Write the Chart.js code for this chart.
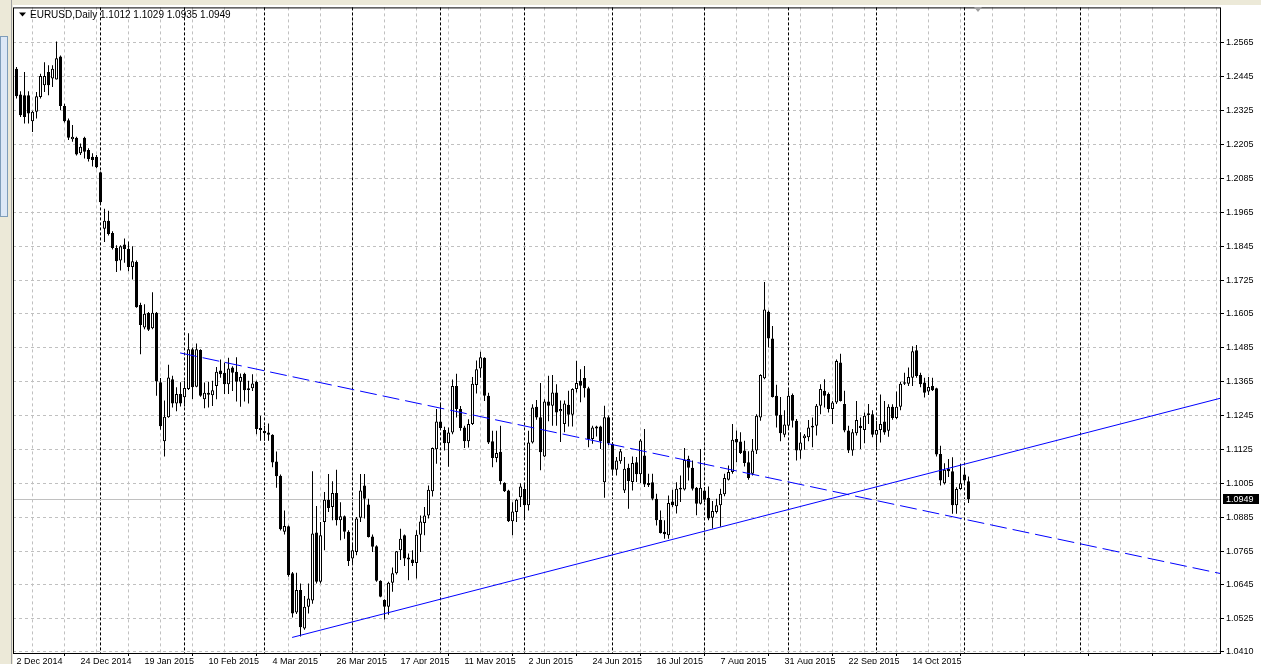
<!DOCTYPE html>
<html>
<head>
<meta charset="utf-8">
<title>EURUSD,Daily</title>
<script src="https://cdn.jsdelivr.net/npm/chart.js@4.4.1/dist/chart.umd.min.js"></script>
<style>
  html, body { margin: 0; padding: 0; overflow: hidden; background: #ece9d8; }
  #wrap { position: absolute; left: 0; top: 0; width: 1261px; height: 664px; }
</style>
</head>
<body>
<div id="wrap"><canvas id="grafica" width="1261" height="664"></canvas></div>
<script>
// EURUSD daily candles, one entry per bar (2 Dec 2014 .. 3 Nov 2015)
const openPrices = [
  1.2474, 1.2382, 1.2380, 1.2380, 1.2288, 1.2321, 1.2374, 1.2415, 1.2462, 1.2439,
  1.2436, 1.2517, 1.2342, 1.2291, 1.2224, 1.2229, 1.2174, 1.2229, 1.2186, 1.2162,
  1.2162, 1.2107, 1.1907, 1.1935, 1.1892, 1.1839, 1.1794, 1.1851, 1.1836, 1.1771,
  1.1789, 1.1637, 1.1557, 1.1608, 1.1554, 1.1609, 1.1363, 1.1154, 1.1239, 1.1374,
  1.1288, 1.1321, 1.1310, 1.1339, 1.1480, 1.1347, 1.1477, 1.1303, 1.1326, 1.1317,
  1.1350, 1.1405, 1.1397, 1.1356, 1.1415, 1.1400, 1.1365, 1.1393, 1.1342, 1.1342,
  1.1365, 1.1201, 1.1190, 1.1185, 1.1177, 1.1082, 1.1032, 1.0833, 1.0853, 1.0686,
  1.0547, 1.0627, 1.0491, 1.0568, 1.0590, 1.0831, 1.0656, 1.0868, 1.0947, 1.0921,
  1.0971, 1.0874, 1.0888, 1.0833, 1.0739, 1.0762, 1.0883, 1.0997, 1.0930, 1.0817,
  1.0782, 1.0660, 1.0592, 1.0568, 1.0653, 1.0686, 1.0768, 1.0821, 1.0742, 1.0735,
  1.0723, 1.0823, 1.0864, 1.0891, 1.0977, 1.1126, 1.1224, 1.1194, 1.1147, 1.1185,
  1.1350, 1.1268, 1.1203, 1.1154, 1.1215, 1.1353, 1.1412, 1.1450, 1.1315, 1.1154,
  1.1095, 1.1117, 1.1007, 1.0980, 1.0871, 1.0903, 1.0956, 1.0985, 1.0927, 1.1150,
  1.1276, 1.1239, 1.1100, 1.1295, 1.1280, 1.1327, 1.1260, 1.1215, 1.1283, 1.1248,
  1.1339, 1.1368, 1.1378, 1.1342, 1.1162, 1.1206, 1.1206, 1.1009, 1.1239, 1.1145,
  1.1053, 1.1083, 1.0980, 1.1060, 1.1010, 1.1080, 1.1037, 1.1104, 1.1006, 1.1009,
  1.0950, 1.0876, 1.0833, 1.0821, 1.0941, 1.0924, 1.0983, 1.0983, 1.1092, 1.1060,
  1.0989, 1.0933, 1.0980, 1.0954, 1.0883, 1.0903, 1.0927, 1.0966, 1.1018, 1.1045,
  1.1162, 1.1153, 1.1121, 1.1080, 1.1039, 1.1121, 1.1238, 1.1377, 1.1613, 1.1518,
  1.1315, 1.1248, 1.1177, 1.1209, 1.1318, 1.1227, 1.1121, 1.1165, 1.1168, 1.1209,
  1.1209, 1.1280, 1.1333, 1.1321, 1.1268, 1.1291, 1.1433, 1.1286, 1.1192, 1.1121,
  1.1182, 1.1209, 1.1194, 1.1253, 1.1250, 1.1177, 1.1194, 1.1224, 1.1191, 1.1276,
  1.1236, 1.1276, 1.1358, 1.1358, 1.1379, 1.1476, 1.1389, 1.1362, 1.1330, 1.1350,
  1.1342, 1.1109, 1.1005, 1.1056, 1.1048, 1.0927, 1.0985, 1.1036, 1.1012
];
const highPrices = [
  1.2480, 1.2394, 1.2462, 1.2394, 1.2325, 1.2391, 1.2456, 1.2497, 1.2486, 1.2486,
  1.2570, 1.2521, 1.2350, 1.2297, 1.2274, 1.2233, 1.2209, 1.2233, 1.2192, 1.2174,
  1.2168, 1.2110, 1.1978, 1.1971, 1.1898, 1.1848, 1.1848, 1.1872, 1.1862, 1.1845,
  1.1794, 1.1645, 1.1639, 1.1612, 1.1682, 1.1612, 1.1378, 1.1298, 1.1425, 1.1386,
  1.1345, 1.1363, 1.1368, 1.1537, 1.1486, 1.1500, 1.1480, 1.1362, 1.1365, 1.1368,
  1.1417, 1.1444, 1.1432, 1.1450, 1.1420, 1.1452, 1.1394, 1.1397, 1.1368, 1.1391,
  1.1368, 1.1244, 1.1209, 1.1217, 1.1179, 1.1118, 1.1036, 1.0909, 1.0856, 1.0691,
  1.0688, 1.0650, 1.0606, 1.0650, 1.1048, 1.0925, 1.0868, 1.0974, 1.1038, 1.1012,
  1.1053, 1.0938, 1.0891, 1.0839, 1.0791, 1.0886, 1.1038, 1.1038, 1.0950, 1.0824,
  1.0786, 1.0662, 1.0594, 1.0656, 1.0707, 1.0765, 1.0844, 1.0824, 1.0756, 1.0768,
  1.0839, 1.0891, 1.0921, 1.0997, 1.1132, 1.1268, 1.1288, 1.1205, 1.1203, 1.1373,
  1.1393, 1.1279, 1.1209, 1.1232, 1.1382, 1.1440, 1.1471, 1.1452, 1.1326, 1.1191,
  1.1191, 1.1209, 1.1009, 1.0982, 1.0938, 1.0950, 1.1005, 1.1003, 1.1191, 1.1285,
  1.1300, 1.1360, 1.1303, 1.1386, 1.1389, 1.1356, 1.1298, 1.1298, 1.1333, 1.1342,
  1.1439, 1.1409, 1.1421, 1.1347, 1.1209, 1.1209, 1.1209, 1.1280, 1.1245, 1.1151,
  1.1098, 1.1127, 1.1098, 1.1074, 1.1100, 1.1098, 1.1162, 1.1197, 1.1039, 1.1039,
  1.0968, 1.0909, 1.0874, 1.0962, 1.0982, 1.1009, 1.1033, 1.1130, 1.1103, 1.1086,
  1.0992, 1.1127, 1.0992, 1.0994, 1.0942, 1.0950, 1.0986, 1.1039, 1.1068, 1.1215,
  1.1192, 1.1186, 1.1156, 1.1119, 1.1162, 1.1250, 1.1391, 1.1718, 1.1617, 1.1562,
  1.1354, 1.1311, 1.1264, 1.1335, 1.1323, 1.1233, 1.1186, 1.1180, 1.1229, 1.1238,
  1.1286, 1.1356, 1.1374, 1.1327, 1.1297, 1.1444, 1.1464, 1.1333, 1.1209, 1.1197,
  1.1297, 1.1238, 1.1256, 1.1286, 1.1264, 1.1226, 1.1320, 1.1297, 1.1285, 1.1285,
  1.1330, 1.1365, 1.1397, 1.1415, 1.1491, 1.1495, 1.1397, 1.1379, 1.1382, 1.1379,
  1.1344, 1.1138, 1.1076, 1.1091, 1.1097, 1.0991, 1.1074, 1.1056, 1.1029
];
const lowPrices = [
  1.2368, 1.2303, 1.2280, 1.2280, 1.2250, 1.2297, 1.2368, 1.2391, 1.2380, 1.2409,
  1.2436, 1.2327, 1.2283, 1.2221, 1.2215, 1.2166, 1.2168, 1.2156, 1.2145, 1.2127,
  1.2121, 1.1998, 1.1860, 1.1883, 1.1833, 1.1754, 1.1759, 1.1786, 1.1756, 1.1727,
  1.1627, 1.1462, 1.1551, 1.1545, 1.1551, 1.1315, 1.1195, 1.1100, 1.1237, 1.1274,
  1.1260, 1.1277, 1.1277, 1.1336, 1.1304, 1.1345, 1.1312, 1.1271, 1.1274, 1.1279,
  1.1303, 1.1379, 1.1321, 1.1321, 1.1332, 1.1295, 1.1276, 1.1295, 1.1288, 1.1332,
  1.1179, 1.1156, 1.1156, 1.1156, 1.1062, 1.0989, 1.0838, 1.0824, 1.0674, 1.0530,
  1.0542, 1.0462, 1.0486, 1.0544, 1.0578, 1.0650, 1.0650, 1.0768, 1.0903, 1.0874,
  1.0856, 1.0803, 1.0809, 1.0712, 1.0721, 1.0750, 1.0868, 1.0880, 1.0813, 1.0762,
  1.0656, 1.0601, 1.0523, 1.0539, 1.0621, 1.0682, 1.0733, 1.0712, 1.0662, 1.0712,
  1.0668, 1.0762, 1.0821, 1.0880, 1.0958, 1.1074, 1.1194, 1.1121, 1.1064, 1.1179,
  1.1238, 1.1191, 1.1130, 1.1132, 1.1212, 1.1323, 1.1379, 1.1297, 1.1144, 1.1062,
  1.1080, 1.1001, 1.0974, 1.0868, 1.0821, 1.0868, 1.0921, 1.0880, 1.0909, 1.1146,
  1.1230, 1.1051, 1.1098, 1.1225, 1.1209, 1.1209, 1.1151, 1.1186, 1.1206, 1.1206,
  1.1327, 1.1292, 1.1309, 1.1133, 1.1145, 1.1171, 1.1127, 1.0954, 1.1140, 1.1033,
  1.1033, 1.1074, 1.0971, 1.0915, 1.0980, 1.1010, 1.1006, 1.0992, 1.0992, 1.0945,
  1.0856, 1.0827, 1.0809, 1.0809, 1.0921, 1.0898, 1.0939, 1.0980, 1.1015, 1.0980,
  1.0892, 1.0930, 1.0939, 1.0874, 1.0845, 1.0898, 1.0851, 1.0959, 1.1015, 1.1039,
  1.1080, 1.1109, 1.1065, 1.1018, 1.1033, 1.1109, 1.1227, 1.1374, 1.1486, 1.1309,
  1.1203, 1.1154, 1.1168, 1.1200, 1.1203, 1.1086, 1.1092, 1.1124, 1.1154, 1.1133,
  1.1174, 1.1250, 1.1274, 1.1256, 1.1215, 1.1286, 1.1295, 1.1186, 1.1112, 1.1103,
  1.1174, 1.1127, 1.1147, 1.1215, 1.1168, 1.1132, 1.1150, 1.1177, 1.1170, 1.1230,
  1.1232, 1.1264, 1.1353, 1.1350, 1.1350, 1.1379, 1.1345, 1.1309, 1.1318, 1.1332,
  1.1100, 1.0997, 1.1001, 1.1027, 1.0897, 1.0897, 1.0982, 1.1003, 1.0935
];
const closePrices = [
  1.2376, 1.2309, 1.2303, 1.2315, 1.2321, 1.2376, 1.2448, 1.2448, 1.2415, 1.2474,
  1.2511, 1.2342, 1.2288, 1.2229, 1.2233, 1.2170, 1.2197, 1.2180, 1.2154, 1.2150,
  1.2125, 1.2001, 1.1935, 1.1888, 1.1839, 1.1792, 1.1845, 1.1835, 1.1771, 1.1792,
  1.1629, 1.1566, 1.1606, 1.1549, 1.1609, 1.1366, 1.1207, 1.1241, 1.1380, 1.1288,
  1.1321, 1.1288, 1.1343, 1.1480, 1.1345, 1.1480, 1.1315, 1.1326, 1.1319, 1.1335,
  1.1400, 1.1391, 1.1356, 1.1412, 1.1397, 1.1365, 1.1382, 1.1335, 1.1336, 1.1359,
  1.1197, 1.1194, 1.1182, 1.1177, 1.1079, 1.1030, 1.0842, 1.0854, 1.0680, 1.0544,
  1.0627, 1.0495, 1.0568, 1.0597, 1.0827, 1.0656, 1.0821, 1.0947, 1.0918, 1.0971,
  1.0874, 1.0888, 1.0833, 1.0730, 1.0768, 1.0880, 1.0980, 1.0950, 1.0815, 1.0780,
  1.0660, 1.0603, 1.0568, 1.0653, 1.0686, 1.0764, 1.0809, 1.0739, 1.0735, 1.0723,
  1.0823, 1.0870, 1.0891, 1.0982, 1.1130, 1.1224, 1.1201, 1.1147, 1.1185, 1.1350,
  1.1268, 1.1201, 1.1154, 1.1215, 1.1358, 1.1409, 1.1452, 1.1315, 1.1150, 1.1095,
  1.1112, 1.1012, 1.0977, 1.0871, 1.0905, 1.0947, 1.0994, 1.0927, 1.1150, 1.1274,
  1.1238, 1.1115, 1.1295, 1.1280, 1.1327, 1.1256, 1.1268, 1.1288, 1.1248, 1.1339,
  1.1360, 1.1351, 1.1342, 1.1162, 1.1203, 1.1199, 1.1154, 1.1239, 1.1147, 1.1053,
  1.1086, 1.1119, 1.1057, 1.1013, 1.1077, 1.1037, 1.1157, 1.1001, 1.0998, 1.0950,
  1.0874, 1.0829, 1.0825, 1.0935, 1.0927, 1.0986, 1.0989, 1.1088, 1.1060, 1.0986,
  1.0933, 1.0989, 1.0947, 1.0880, 1.0907, 1.0927, 1.0968, 1.1024, 1.1045, 1.1159,
  1.1150, 1.1112, 1.1077, 1.1024, 1.1121, 1.1244, 1.1389, 1.1621, 1.1518, 1.1311,
  1.1244, 1.1182, 1.1213, 1.1315, 1.1227, 1.1121, 1.1150, 1.1174, 1.1203, 1.1203,
  1.1280, 1.1339, 1.1315, 1.1268, 1.1291, 1.1438, 1.1297, 1.1192, 1.1121, 1.1186,
  1.1229, 1.1201, 1.1244, 1.1247, 1.1177, 1.1194, 1.1215, 1.1185, 1.1276, 1.1236,
  1.1276, 1.1358, 1.1363, 1.1382, 1.1473, 1.1385, 1.1356, 1.1326, 1.1346, 1.1335,
  1.1107, 1.1015, 1.1053, 1.1048, 1.0927, 1.0985, 1.1005, 1.1015, 1.0949
];

// time axis labels, one every 16 bars
const dateTickLabels = ["2 Dec 2014", "24 Dec 2014", "19 Jan 2015", "10 Feb 2015", "4 Mar 2015",
  "26 Mar 2015", "17 Apr 2015", "11 May 2015", "2 Jun 2015", "24 Jun 2015", "16 Jul 2015",
  "7 Aug 2015", "31 Aug 2015", "22 Sep 2015", "14 Oct 2015"];
const priceTicks = [1.0410, 1.0525, 1.0645, 1.0765, 1.0885, 1.1005, 1.1125, 1.1245, 1.1365,
  1.1485, 1.1605, 1.1725, 1.1845, 1.1965, 1.2085, 1.2205, 1.2325, 1.2445, 1.2565];
// first bar of each month (period separators)
const monthStartBars = [21, 42, 62, 84, 106, 127, 149, 172, 193, 215, 237, 266];
// trend lines: [bar, price] end points
const resistanceLine = [[40.9, 1.1467], [301.125, 1.0685]];
const supportLine = [[68.9, 1.0459], [301.125, 1.1307]];
const lastPrice = 1.0949;
const symbolTitle = "EURUSD,Daily";
const lastBarText = "1.1012 1.1029 1.0935 1.0949";

const FONT = '"Liberation Sans", Arial, sans-serif';

let bodies = [], wicks = [], bodyColors = [];
for (let i = 0; i < openPrices.length; i++) {
    bodies.push({x: i, y: [openPrices[i], closePrices[i]]});
    wicks.push({x: i, y: [Math.min(lowPrices[i], openPrices[i], closePrices[i]),
                          Math.max(highPrices[i], openPrices[i], closePrices[i])]});
    bodyColors.push(closePrices[i] >= openPrices[i] ? '#ffffff' : '#000000');
}

// MT4 look: window frame, separators, bid line, header
const mt4Plugin = {
    id: 'mt4',
    beforeDraw(chart) {
        const c = chart.ctx;
        c.save();
        c.fillStyle = '#ffffff';
        c.fillRect(13, 5, 1248, 659);
        // navigator edge on the left
        c.fillStyle = '#ece9d8';
        c.fillRect(0, 0, 13, 664);
        c.fillStyle = '#dde8f6';
        c.fillRect(0, 36, 8, 181);
        c.strokeStyle = '#7f9db9';
        c.lineWidth = 1;
        c.strokeRect(0.5, 36.5, 7, 180);
        c.fillStyle = '#a0a0a0';
        c.fillRect(11, 0, 1, 664);
        c.restore();
    },
    beforeDatasetsDraw(chart) {
        const c = chart.ctx, a = chart.chartArea;
        const xs = chart.scales.x, ys = chart.scales.y;
        c.save();
        c.lineWidth = 1;
        c.strokeStyle = '#000000';
        c.setLineDash([3, 2]);
        monthStartBars.forEach(b => {
            const px = Math.floor(xs.getPixelForValue(b)) + 0.5;
            c.beginPath();
            c.moveTo(px, a.top);
            c.lineTo(px, a.bottom);
            c.stroke();
        });
        c.setLineDash([]);
        c.strokeStyle = '#c0c0c0';
        const py = Math.round(ys.getPixelForValue(lastPrice)) + 0.5;
        c.beginPath();
        c.moveTo(a.left, py);
        c.lineTo(a.right, py);
        c.stroke();
        c.restore();
    },
    afterDraw(chart) {
        const c = chart.ctx, a = chart.chartArea;
        const ys = chart.scales.y;
        c.save();
        c.strokeStyle = '#000000';
        c.lineWidth = 1;
        c.strokeRect(a.left + 0.5, a.top + 0.5, a.right - a.left - 1, a.bottom - a.top);
        // bid price box
        const py = Math.round(ys.getPixelForValue(lastPrice));
        c.fillStyle = '#000000';
        c.fillRect(a.right + 2, py - 5, 36, 10);
        c.fillStyle = '#ffffff';
        c.font = '9px ' + FONT;
        c.textBaseline = 'middle';
        c.fillText(lastPrice.toFixed(4), a.right + 5, py + 0.5);
        // header
        c.fillStyle = '#000000';
        c.beginPath();
        c.moveTo(19, 12.5);
        c.lineTo(26, 12.5);
        c.lineTo(22.5, 16.5);
        c.closePath();
        c.fill();
        c.font = '10px ' + FONT;
        c.fillText(symbolTitle, 30, 15);
        c.fillText(lastBarText, 100, 15);
        // chart shift marker
        c.fillStyle = '#a0a0a0';
        c.beginPath();
        c.moveTo(974, 7);
        c.lineTo(982, 7);
        c.lineTo(978, 12);
        c.closePath();
        c.fill();
        c.restore();
    }
};

function loadChart() {
    let ctx = document.getElementById('grafica');
    let myChart = new Chart(ctx, {
        type: 'bar',
        data: {
            datasets: [{
                label: 'body',
                data: bodies,
                backgroundColor: bodyColors,
                borderColor: '#000000',
                borderWidth: 1,
                borderSkipped: false,
                inflateAmount: 0,
                barThickness: 3,
                minBarLength: 1,
                grouped: false,
                order: 1
            }, {
                label: 'wick',
                data: wicks,
                backgroundColor: '#000000',
                borderWidth: 0,
                inflateAmount: 0,
                barThickness: 1,
                grouped: false,
                order: 2
            }, {
                type: 'line',
                label: 'resistance',
                data: resistanceLine.map(p => ({x: p[0], y: p[1]})),
                borderColor: '#0000ff',
                borderWidth: 1,
                borderDash: [17, 6],
                pointRadius: 0,
                fill: false,
                order: 0
            }, {
                type: 'line',
                label: 'support',
                data: supportLine.map(p => ({x: p[0], y: p[1]})),
                borderColor: '#0000ff',
                borderWidth: 1,
                pointRadius: 0,
                fill: false,
                order: 0
            }]
        },
        options: {
            responsive: false,
            animation: false,
            devicePixelRatio: 1,
            layout: { padding: { left: 13, top: 5, right: 0, bottom: 0 } },
            plugins: { legend: { display: false }, tooltip: { enabled: false } },
            scales: {
                x: {
                    type: 'linear',
                    min: -0.875,
                    max: 301.125,
                    offset: false,
                    afterFit: (s) => { s.height = 11; },
                    afterBuildTicks: (axis) => {
                        let t = [];
                        for (let v = 0; v <= 296; v += 8) t.push({value: v});
                        axis.ticks = t;
                    },
                    grid: {
                        color: '#c0c0c0',
                        tickLength: 3,
                        tickColor: (c) => (c.tick && c.tick.value % 16 === 0) ? '#000000' : 'rgba(0,0,0,0)'
                    },
                    border: { display: false, dash: [3, 3] },
                    ticks: {
                        autoSkip: false,
                        maxRotation: 0,
                        minRotation: 0,
                        align: 'start',
                        padding: 1,
                        color: '#000000',
                        font: { family: FONT, size: 9, lineHeight: 1 },
                        callback: (v) => (v % 16 === 0 ? (dateTickLabels[v / 16] || '') : '')
                    }
                },
                y: {
                    type: 'linear',
                    position: 'right',
                    min: 1.04039,
                    max: 1.26910,
                    afterFit: (s) => { s.width = 40; },
                    afterBuildTicks: (axis) => {
                        axis.ticks = priceTicks.map(v => ({value: v}));
                    },
                    grid: { color: '#c0c0c0', tickLength: 3, tickColor: '#000000' },
                    border: { display: false, dash: [3, 3] },
                    ticks: {
                        autoSkip: false,
                        padding: 2,
                        color: '#000000',
                        font: { family: FONT, size: 9 },
                        callback: (v) => Number(v).toFixed(4)
                    }
                }
            }
        },
        plugins: [mt4Plugin]
    });
}

loadChart();
</script>
</body>
</html>
